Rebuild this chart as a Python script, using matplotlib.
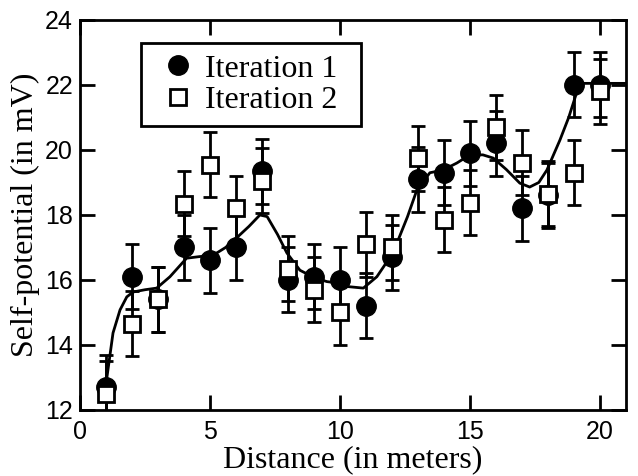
import matplotlib
matplotlib.use("Agg")
import matplotlib.pyplot as plt
from matplotlib.lines import Line2D

# --- data ---
distance = [1, 2, 3, 4, 5, 6, 7, 8, 9, 10, 11, 12, 13, 14, 15, 16, 17, 18, 19, 20]
iteration1 = [12.7, 16.1, 15.4, 17.0, 16.6, 17.0, 19.35, 16.0, 16.1, 16.0,
              15.2, 16.7, 19.1, 19.3, 19.9, 20.2, 18.2, 18.6, 22.0, 22.0]
iteration2 = [12.5, 14.65, 15.4, 18.35, 19.55, 18.2, 19.05, 16.35, 15.7, 15.0,
              17.1, 17.0, 19.75, 17.85, 18.37, 20.7, 19.6, 18.65, 19.3, 21.8]
error1 = [1.0] * 20
error2 = [1.0] * 20

# smooth fit curve
fit_x = [1.0, 1.27, 1.54, 1.8, 2.04, 2.5, 2.95, 3.46, 4.1, 4.6, 5.1, 5.6, 6.03,
         6.5, 6.92, 7.2, 7.6, 7.96, 8.46, 9.04, 9.5, 10.0, 10.26, 10.9, 11.42,
         11.8, 12.19, 12.6, 12.96, 13.46, 13.96, 14.5, 15.0, 15.5, 15.9, 16.4,
         16.92, 17.3, 17.65, 17.96, 18.46, 18.8, 19.1, 19.35, 20.0, 21.0]
fit_y = [12.8, 14.37, 15.08, 15.48, 15.63, 15.7, 15.75, 16.1, 16.67, 16.72,
         16.75, 17.0, 17.3, 17.65, 18.0, 17.95, 17.4, 16.83, 16.3, 16.06, 15.95,
         15.9, 15.8, 15.75, 16.1, 16.55, 17.13, 17.95, 18.77, 19.3, 19.38, 19.6,
         19.85, 19.85, 19.75, 19.4, 18.98, 18.86, 19.0, 19.38, 20.3, 21.0, 21.75,
         22.05, 22.05, 22.05]

serif = ["Liberation Serif", "DejaVu Serif"]
sans = ["Liberation Sans", "DejaVu Sans"]

fig = plt.figure(figsize=(6.38, 4.76), dpi=100)
ax = fig.add_axes([0.1254, 0.1387, 0.8556, 0.8193])

ax.plot(fit_x, fit_y, color="black", lw=2.0, zorder=2)

ax.errorbar(distance, iteration1, yerr=error1, fmt="o", color="black",
            ms=14, mec="black", mfc="black", ecolor="black", elinewidth=2.0,
            capsize=5, capthick=2.0, zorder=3)
ax.errorbar(distance, iteration2, yerr=error2, fmt="s", color="black",
            ms=12, mec="black", mfc="white", mew=2.0, ecolor="black",
            elinewidth=2.0, capsize=5, capthick=2.0, zorder=4)

ax.set_xlim(0, 21)
ax.set_ylim(12, 24)
ax.set_xticks([0, 5, 10, 15, 20])
ax.set_yticks([12, 14, 16, 18, 20, 22, 24])
ax.tick_params(direction="in", length=11, width=2, top=True, right=True,
               labelsize=18, pad=5)
ax.tick_params(axis="x", pad=7)
for lab in ax.get_xticklabels() + ax.get_yticklabels():
    lab.set_family(sans)
for sp in ax.spines.values():
    sp.set_linewidth(2)

ax.set_xlabel("Distance (in meters)", family=serif, fontsize=23, labelpad=1)
ax.set_ylabel("Self-potential (in mV)", family=serif, fontsize=23, labelpad=4)

handles = [
    Line2D([], [], ls="none", marker="o", ms=14, mfc="black", mec="black"),
    Line2D([], [], ls="none", marker="s", ms=12, mfc="white", mec="black", mew=2),
]
# legend box spans about 141..361 px across, top at 43 px
leg = ax.legend(handles, ["Iteration 1", "Iteration 2"], loc="upper left",
                bbox_to_anchor=(0.112, 0.741, 0.403, 0.2), mode="expand",
                borderaxespad=0, frameon=True,
                fancybox=False, edgecolor="black", framealpha=1,
                prop={"family": serif, "size": 23}, labelspacing=0.06,
                handletextpad=0.05, handlelength=1.6, borderpad=0.35)
leg.get_frame().set_linewidth(2)

fig.savefig("out.png", dpi=100)
